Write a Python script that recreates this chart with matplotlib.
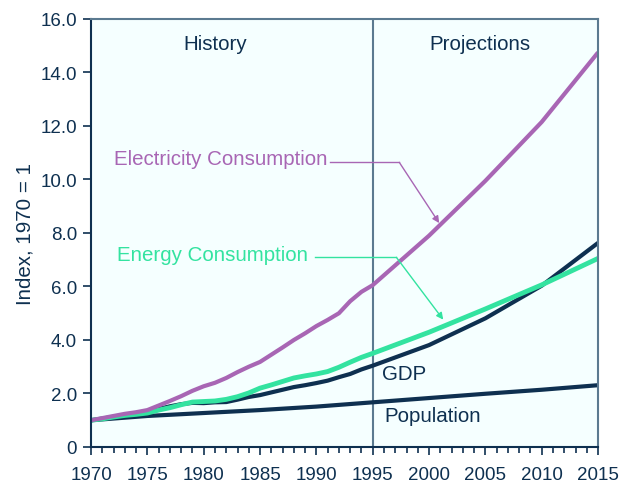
import matplotlib
matplotlib.use("Agg")
import matplotlib.pyplot as plt
from matplotlib.ticker import MultipleLocator, FuncFormatter

# годы истории (ежегодно) и прогноза (каждые 5 лет)
years_hist = list(range(1970, 1996))
years_proj = [2000, 2005, 2010, 2015]
years = years_hist + years_proj

electricity = [1.0, 1.08, 1.16, 1.24, 1.30, 1.38, 1.55, 1.72, 1.90, 2.10, 2.27, 2.40, 2.58,
               2.80, 3.00, 3.18, 3.45, 3.72, 4.00, 4.25, 4.52, 4.75, 5.00, 5.45, 5.80, 6.05,
               7.90, 9.95, 12.15, 14.75]
energy = [1.0, 1.05, 1.12, 1.18, 1.22, 1.27, 1.38, 1.47, 1.58, 1.68, 1.70, 1.72, 1.78,
          1.88, 2.02, 2.20, 2.32, 2.45, 2.58, 2.66, 2.73, 2.82, 2.98, 3.17, 3.35, 3.50,
          4.29, 5.16, 6.06, 7.05]
gdp = [1.0, 1.06, 1.12, 1.19, 1.24, 1.30, 1.42, 1.52, 1.60, 1.65, 1.64, 1.67, 1.68,
       1.77, 1.87, 1.94, 2.04, 2.14, 2.24, 2.31, 2.39, 2.48, 2.61, 2.73, 2.90, 3.04,
       3.81, 4.81, 6.03, 7.63]
pop_years = [1970, 1975, 1980, 1985, 1990, 1995, 2000, 2005, 2010, 2015]
population = [1.0, 1.16, 1.27, 1.38, 1.51, 1.67, 1.83, 1.99, 2.14, 2.31]

split_year = 1995

# цвета
navy = "#0e3050"
purple = "#a866b4"
green = "#33e3a0"
grey = "#5b7a90"
bg = "#f5ffff"

plt.rcParams["font.family"] = ["Liberation Sans", "DejaVu Sans"]
fs = 14.8  # размер подписей

fig = plt.figure(figsize=(6.33, 4.85), dpi=100)
ax = fig.add_axes([0.1438, 0.0763, 0.801, 0.8825])
ax.set_facecolor(bg)

# линии
ax.plot(pop_years, population, color=navy, lw=3, solid_capstyle="butt")
ax.plot(years, gdp, color=navy, lw=3, solid_capstyle="butt")
ax.plot(years, energy, color=green, lw=3.5, solid_capstyle="butt")
ax.plot(years, electricity, color=purple, lw=3, solid_capstyle="butt")

# граница история / прогноз
ax.axvline(split_year, color=grey, lw=1.5, zorder=1)

ax.set_xlim(1970, 2015)
ax.set_ylim(0, 16)

# оси и деления
ax.xaxis.set_major_locator(MultipleLocator(5))
ax.xaxis.set_minor_locator(MultipleLocator(1))
ax.yaxis.set_major_locator(MultipleLocator(2))
ax.yaxis.set_major_formatter(FuncFormatter(lambda v, p: "0" if v == 0 else f"{v:.1f}"))
ax.tick_params(axis="both", which="major", direction="out", length=6, width=1.2,
               color=navy, labelcolor=navy, labelsize=13.5)
ax.tick_params(axis="x", which="major", pad=8)
ax.tick_params(axis="y", which="major", pad=4)
ax.tick_params(axis="x", which="minor", direction="out", length=4, width=1.2, color=navy)

ax.spines["left"].set_color(navy)
ax.spines["bottom"].set_color(navy)
ax.spines["top"].set_color(grey)
ax.spines["right"].set_color(grey)
for s in ax.spines.values():
    s.set_linewidth(1.5)

ax.set_ylabel("Index, 1970 = 1", color=navy, fontsize=fs, labelpad=4)

# подписи
ax.text(1981, 15.07, "History", color=navy, fontsize=fs, ha="center", va="center")
ax.text(2004.5, 15.07, "Projections", color=navy, fontsize=fs, ha="center", va="center")
ax.text(1995.8, 2.73, "GDP", color=navy, fontsize=fs, ha="left", va="center")
ax.text(1996.0, 1.17, "Population", color=navy, fontsize=fs, ha="left", va="center")

ax.text(1991.0, 10.77, "Electricity Consumption", color=purple, fontsize=fs,
        ha="right", va="center")
ax.plot([1991.2, 1997.36], [10.64, 10.64], color=purple, lw=1)
ax.annotate("", xy=(2000.9, 8.37), xytext=(1997.36, 10.64),
            arrowprops=dict(arrowstyle="-|>", color=purple, lw=1, mutation_scale=10,
                            shrinkA=0, shrinkB=0))

ax.text(1989.3, 7.18, "Energy Consumption", color=green, fontsize=fs,
        ha="right", va="center")
ax.plot([1989.9, 1997.1], [7.09, 7.09], color=green, lw=1)
ax.annotate("", xy=(2001.26, 4.76), xytext=(1997.1, 7.09),
            arrowprops=dict(arrowstyle="-|>", color=green, lw=1, mutation_scale=10,
                            shrinkA=0, shrinkB=0))

fig.savefig("out.png", dpi=100)
